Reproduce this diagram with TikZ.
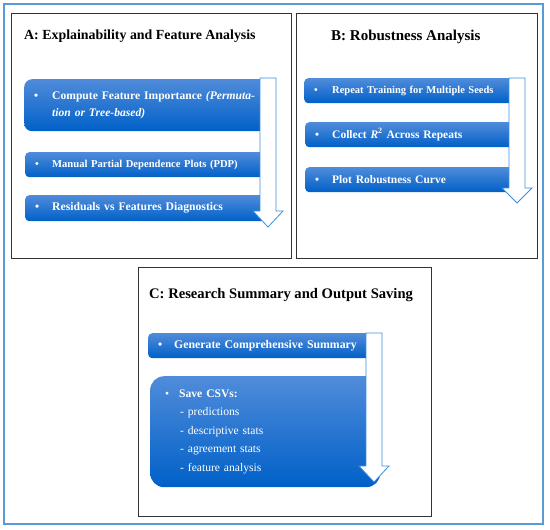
\documentclass[tikz,border=0pt]{standalone}
\usepackage{fontspec}
\setmainfont{Liberation Serif}
\usepackage{xcolor,tikz}
\usetikzlibrary{positioning,calc}

\definecolor{frameblue}{RGB}{91,155,213}
\definecolor{bartop}{RGB}{80,140,218}
\definecolor{barbot}{RGB}{0,96,200}
\definecolor{arrowline}{RGB}{61,142,224}

\begin{document}
\begin{tikzpicture}[x=1pt,y=-1pt,panel/.style={draw=black!80,line width=0.9pt},ttl/.style={anchor=base west,inner sep=0pt,font=\bfseries\fontsize{14.5}{17}\selectfont},bar/.style 2 args={anchor=north west,rounded corners=4pt,top color=bartop,bottom color=barbot,draw=none,text=white,align=left,inner xsep=10pt,inner ysep=0pt,text width=#1,minimum height=#2,font=\bfseries\fontsize{10.5}{17}\selectfont},flow/.style={draw=arrowline,fill=white,line width=0.8pt,line join=miter}]
\useasboundingbox (0,0) rectangle (550,530);
\draw[frameblue,line width=1.2pt] (4,4) rectangle (543,524);
% panels
\draw[panel] (11,13) rectangle (291,258);
\draw[panel] (296,13) rectangle (537,258);
\draw[panel] (138,267) rectangle (431,516);
\node[ttl,font=\bfseries\fontsize{13.9}{17}\selectfont] (ta) at (24,39) {A: Explainability and Feature Analysis};
\node[ttl,font=\bfseries\fontsize{15}{17}\selectfont] (tb) at (331,41) {B: Robustness Analysis};
\node[ttl,font=\bfseries\fontsize{14.6}{17}\selectfont] (tc) at (149,298) {C: Research Summary and Output Saving};
% A
\node[bar={224pt}{52pt},rounded corners=8pt,font=\bfseries\fontsize{11.6}{17.6}\selectfont] (a1) at (24,79) {\makebox[18pt][l]{\textbullet}Compute Feature Importance \textit{(Permuta-}\\\hspace*{18pt}\textit{tion or Tree-based)}};
\node[bar={223pt}{25pt},font=\bfseries\fontsize{10.6}{12}\selectfont] (a2) at (25,152) {\makebox[17pt][l]{\textbullet}Manual Partial Dependence Plots (PDP)};
\node[bar={223pt}{26pt},font=\bfseries\fontsize{11.7}{13}\selectfont] (a3) at (25,195) {\makebox[17pt][l]{\textbullet}Residuals vs Features Diagnostics};
\draw[flow] (260,78) -- (276,78) -- (276,211) -- (283,211) -- (268,227) -- (253,211) -- (260,211) -- cycle;
% B
\node[bar={193pt}{25pt}] (b1) at (304,78) {\makebox[18pt][l]{\textbullet}Repeat Training for Multiple Seeds};
\node[bar={192pt}{25pt},font=\bfseries\fontsize{11.5}{13}\selectfont] (b2) at (305,122) {\makebox[17pt][l]{\textbullet}Collect \textit{R}\textsuperscript{2} Across Repeats};
\node[bar={192pt}{25pt},font=\bfseries\fontsize{11.5}{13}\selectfont] (b3) at (305,167) {\makebox[17pt][l]{\textbullet}Plot Robustness Curve};
\draw[flow] (509,78) -- (525,78) -- (525,188) -- (532,188) -- (517,203) -- (502,188) -- (509,188) -- cycle;
% C
\node[bar={206pt}{25pt},font=\bfseries\fontsize{11.8}{13}\selectfont] (c1) at (148,333) {\makebox[16pt][l]{\textbullet}Generate Comprehensive Summary};
\node[bar={212pt}{111pt},rounded corners=14pt,inner xsep=9pt,font=\fontsize{11.6}{18.5}\selectfont] (c2) at (150,376) {\makebox[20pt][l]{\hspace{6pt}\textbullet}\textbf{Save CSVs:}\\\hspace*{21pt}- predictions\\\hspace*{21pt}- descriptive stats\\\hspace*{21pt}- agreement stats\\\hspace*{21pt}- feature analysis};
\draw[flow] (366,333) -- (382,333) -- (382,466) -- (389,466) -- (374,482) -- (359,466) -- (366,466) -- cycle;
\end{tikzpicture}
\end{document}
